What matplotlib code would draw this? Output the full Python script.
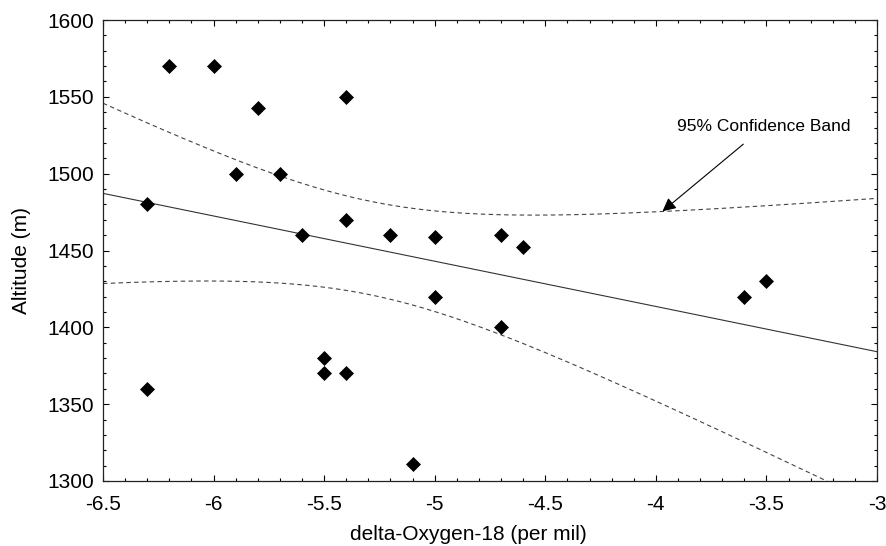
import numpy as np
import matplotlib
matplotlib.use("Agg")
import matplotlib.pyplot as plt
from matplotlib.ticker import MultipleLocator

# data
delta_o18 = [-6.2, -6.0, -5.8, -5.4, -5.9, -5.7, -6.3, -5.6, -5.4, -5.2, -5.0,
             -4.7, -4.6, -5.0, -4.7, -3.6, -3.5, -5.5, -5.5, -5.4, -6.3, -5.1]
altitude = [1570, 1570, 1543, 1550, 1500, 1500, 1480, 1460, 1470, 1460, 1459,
            1460, 1452, 1420, 1400, 1420, 1430, 1380, 1370, 1370, 1360, 1311]
x_ticks = [-6.5, -6, -5.5, -5, -4.5, -4, -3.5, -3]
x_tick_labels = ['-6.5', '-6', '-5.5', '-5', '-4.5', '-4', '-3.5', '-3']

x = np.array(delta_o18)
y = np.array(altitude)
n = len(x)
slope, intercept = np.polyfit(x, y, 1)
resid = y - (slope * x + intercept)
s = np.sqrt(np.sum(resid ** 2) / (n - 2))
t_val = 2.086  # t(0.975, df=20)
xm = x.mean()
sxx = np.sum((x - xm) ** 2)

xs = np.linspace(-6.5, -3.0, 300)
fit = slope * xs + intercept
half = t_val * s * np.sqrt(1.0 / n + (xs - xm) ** 2 / sxx)

plt.rcParams['font.family'] = ['Liberation Sans', 'DejaVu Sans']
fig = plt.figure(figsize=(8.86, 5.46), dpi=100)
ax = fig.add_axes([103 / 886, 65 / 546, 774 / 886, 461 / 546])

ax.plot(xs, fit, color='#333333', lw=0.8)
ax.plot(xs, fit + half, color='#444444', lw=0.8, ls=(0, (4, 3)))
ax.plot(xs, fit - half, color='#444444', lw=0.8, ls=(0, (4, 3)))
ax.plot(x, y, ls='none', marker='D', ms=7, color='black', mec='black', mew=0.5)

ax.set_xlim(-6.5, -3.0)
ax.set_ylim(1300, 1600)
ax.xaxis.set_minor_locator(MultipleLocator(0.1))
ax.yaxis.set_major_locator(MultipleLocator(50))
ax.yaxis.set_minor_locator(MultipleLocator(10))
ax.set_xticks(x_ticks)
ax.set_xticklabels(x_tick_labels)
ax.tick_params(which='both', direction='in', top=True, right=True, labelsize=15, width=0.8)
ax.tick_params(which='major', length=4.5)
ax.tick_params(which='minor', length=2.5)
ax.tick_params(axis='x', pad=10)
ax.tick_params(axis='y', pad=6.4)
for sp in ax.spines.values():
    sp.set_linewidth(0.9)
    sp.set_color('#222222')

ax.set_xlabel('delta-Oxygen-18 (per mil)', fontsize=15)
ax.xaxis.set_label_coords(0.4716, -0.117)
ax.xaxis.label.set_va('center')
ax.set_ylabel('Altitude (m)', fontsize=15)
ax.yaxis.set_label_coords(-0.1047, 0.479)
ax.yaxis.label.set_va('center')

ax.annotate('95% Confidence Band', xy=(-3.97, 1475.5), xytext=(-3.51, 1530.5),
            ha='center', va='center', fontsize=12.5,
            arrowprops=dict(arrowstyle='-|>', color='black', lw=0.8,
                            mutation_scale=20, shrinkA=8, shrinkB=0))

fig.savefig('out.png', dpi=100)
